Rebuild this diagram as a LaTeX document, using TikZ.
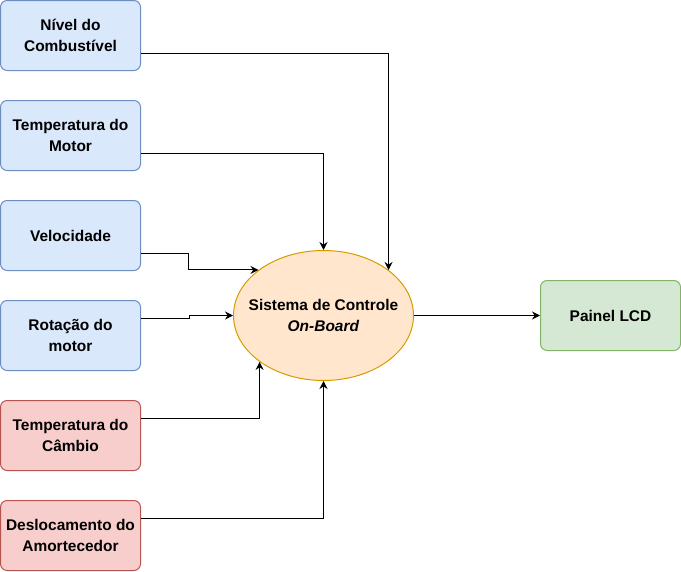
\documentclass[tikz,border=0pt]{standalone}
\usepackage{fontspec}
\setmainfont{Liberation Sans}
\usetikzlibrary{shapes.geometric,arrows.meta}
\definecolor{bfill}{HTML}{DAE8FC}\definecolor{bline}{HTML}{6C8EBF}
\definecolor{rfill}{HTML}{F8CECC}\definecolor{rline}{HTML}{B85450}
\definecolor{gfill}{HTML}{D5E8D4}\definecolor{gline}{HTML}{82B366}
\definecolor{ofill}{HTML}{FFE6CC}\definecolor{oline}{HTML}{D79B00}
\tikzset{
  lbl/.style={font=\fontsize{11.6}{15.5}\selectfont\bfseries,align=center},
  box/.style={rectangle,rounded corners=5pt,minimum width=105pt,minimum height=52.5pt,inner sep=0pt,line width=0.75pt,lbl},
  bluebox/.style={box,draw=bline,fill=bfill},
  redbox/.style={box,draw=rline,fill=rfill},
  greenbox/.style={box,draw=gline,fill=gfill},
  conn/.style={draw=black,line width=0.75pt,-{Stealth[length=6pt,width=6pt,inset=2pt]}}
}
\begin{document}
\begin{tikzpicture}[x=0.75pt,y=-0.75pt]
\useasboundingbox (0,0) rectangle (681,571);
\node[bluebox] (c) at (70.5,35.5) {Nível do\\Combustível};
\node[bluebox] (t) at (70.5,135.5) {Temperatura do\\Motor};
\node[bluebox] (v) at (70.5,235.5) {Velocidade};
\node[bluebox] (r) at (70.5,335.5) {Rotação do\\motor};
\node[redbox] (cb) at (70.5,435.5) {Temperatura do\\Câmbio};
\node[redbox] (d) at (70.5,535.5) {Deslocamento do\\Amortecedor};
\node[greenbox] (lcd) at (610.5,315.5) {Painel LCD};
\node[ellipse,draw=oline,fill=ofill,line width=0.75pt,minimum width=135pt,minimum height=97.5pt,inner sep=0pt] (sys) at (323.5,315.5) {};
\node[lbl,inner sep=0pt] (syslbl) at (sys.center) {Sistema de Controle\\\textit{On-Board}};
\draw[conn] ([yshift=-13.125pt]c.east) -| (sys.35.5);
\draw[conn] ([yshift=-13.125pt]t.east) -| (sys.north);
\draw[conn] ([yshift=-13.125pt]v.east) -- ++(47,0) |- (sys.145.3);
\draw[conn] ([yshift=13.125pt]r.east) -- ++(48,0) |- (sys.west);
\draw[conn] ([yshift=13.125pt]cb.east) -| (sys.216.4);
\draw[conn] ([yshift=13.125pt]d.east) -| (sys.south);
\draw[conn] (sys.east) -- (lcd.west);
\end{tikzpicture}
\end{document}
